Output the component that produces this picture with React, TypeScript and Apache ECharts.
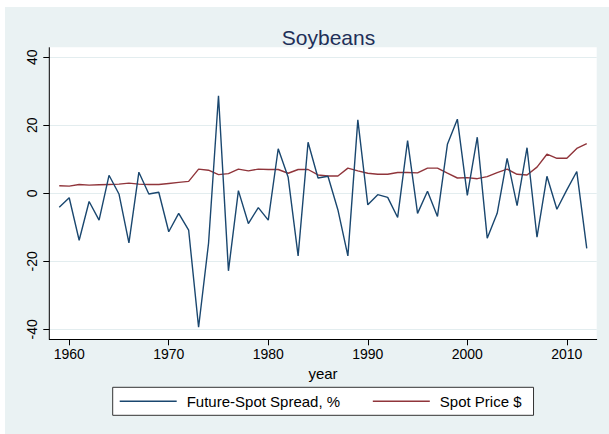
import React, { useEffect, useRef } from "react";
import * as echarts from "echarts";

const years = [
  1959, 1960, 1961, 1962, 1963, 1964, 1965, 1966, 1967, 1968, 1969, 1970, 1971, 1972,
  1973, 1974, 1975, 1976, 1977, 1978, 1979, 1980, 1981, 1982, 1983, 1984, 1985, 1986,
  1987, 1988, 1989, 1990, 1991, 1992, 1993, 1994, 1995, 1996, 1997, 1998, 1999, 2000,
  2001, 2002, 2003, 2004, 2005, 2006, 2007, 2008, 2009, 2010, 2011, 2012,
];

const spread = [
  -4.1, -1.3, -13.8, -2.4, -7.9, 5.3, -0.2, -14.6, 6.2, -0.2, 0.3, -11.3, -5.9, -10.8,
  -39.4, -14.7, 28.7, -22.8, 0.8, -8.9, -4.2, -7.9, 13.1, 4.7, -18.4, 15.0, 4.5, 5.0,
  -4.9, -18.4, 21.6, -3.4, -0.4, -1.2, -7.1, 15.5, -5.9, 0.6, -6.8, 14.4, 21.8, -0.6,
  16.5, -13.2, -5.9, 10.3, -3.6, 13.4, -12.9, 5.0, -4.7, 1.0, 6.4, -16.2,
];

const spotPrice = [
  2.2, 2.1, 2.6, 2.4, 2.5, 2.6, 2.7, 3.0, 2.7, 2.6, 2.6, 2.9, 3.2, 3.5,
  7.1, 6.8, 5.5, 5.8, 7.1, 6.6, 7.1, 7.0, 7.0, 5.9, 7.0, 7.0, 5.4, 5.1,
  5.1, 7.4, 6.6, 5.9, 5.6, 5.6, 6.1, 6.1, 6.0, 7.4, 7.4, 5.9, 4.5, 4.6,
  4.3, 4.9, 6.1, 7.1, 5.6, 5.4, 7.7, 11.5, 10.3, 10.3, 13.2, 14.6,
];

const xTicks = [1960, 1970, 1980, 1990, 2000, 2010];
const yTicks = [-40, -20, 0, 20, 40];

const FONT = "'Liberation Sans', Arial, Helvetica, sans-serif";
const BLUE = "#1a476f";
const RED = "#90353b";
const BG = "#eaf2f3";

export default function App() {
  const ref = useRef<HTMLDivElement>(null);

  useEffect(() => {
    if (!ref.current) return;
    const chart = echarts.init(ref.current, undefined, { renderer: "svg" });

    const plotL = 49.3;
    const plotR = 596.7;
    const plotT = 47.3;
    const plotB = 339.3;

    chart.setOption({
      animation: false,
      backgroundColor: "#ffffff",
      textStyle: { fontFamily: FONT },
      title: {
        text: "Soybeans",
        left: 323.5,
        textAlign: "center",
        top: 22,
        textStyle: {
          fontFamily: FONT,
          fontSize: 21,
          fontWeight: "normal",
          color: "#1e2f58",
        },
      },
      graphic: [
        {
          type: "rect",
          z: -20,
          silent: true,
          shape: { x: 5, y: 7, width: 604, height: 427 },
          style: { fill: BG },
        },
        {
          type: "rect",
          z: -10,
          silent: true,
          shape: { x: plotL, y: plotT, width: plotR - plotL, height: plotB - plotT },
          style: { fill: "#ffffff" },
        },
        {
          type: "line",
          z: 50,
          silent: true,
          shape: { x1: plotL, y1: plotT, x2: plotL, y2: plotB },
          style: { stroke: "#000", lineWidth: 1 },
        },
      ],
      legend: {
        left: 112.7,
        top: 387.3,
        orient: "horizontal",
        padding: [6, 12, 6, 7],
        backgroundColor: "#ffffff",
        borderColor: "#333333",
        borderWidth: 1,
        borderRadius: 0,
        itemWidth: 57,
        itemHeight: 1.5,
        itemGap: 32.7,
        icon: "rect",
        textStyle: {
          fontFamily: FONT,
          fontSize: 15,
          color: "#000",
          lineHeight: 16,
          padding: [0, 0, 0, 5],
        },
        data: [
          { name: "Future-Spot Spread, %", icon: "rect" },
          { name: "Spot Price $", icon: "rect" },
        ],
      },
      grid: {
        left: plotL,
        right: 609 - plotR,
        top: 57.3,
        bottom: 434 - 329.3,
        containLabel: false,
      },
      xAxis: {
        type: "value",
        min: 1958,
        max: 2013,
        offset: 10,
        name: "year",
        nameLocation: "middle",
        nameGap: 25,
        nameTextStyle: { fontFamily: FONT, fontSize: 15, color: "#000" },
        axisLine: { show: true, onZero: false, lineStyle: { color: "#000", width: 1 } },
        axisTick: {
          show: true,
          length: 6,
          customValues: xTicks,
          lineStyle: { color: "#000", width: 1 },
        },
        axisLabel: {
          customValues: xTicks,
          margin: 8,
          fontFamily: FONT,
          fontSize: 14,
          color: "#000",
          formatter: (v: number) => String(v),
        },
        splitLine: { show: false },
      },
      yAxis: {
        type: "value",
        min: -40,
        max: 40,
        interval: 20,
        axisLine: { show: false, onZero: false },
        axisTick: {
          show: true,
          length: 6,
          lineStyle: { color: "#000", width: 1 },
        },
        axisLabel: {
          rotate: 90,
          margin: 10,
          fontFamily: FONT,
          fontSize: 14,
          color: "#000",
          formatter: (v: number) => (yTicks.includes(v) ? String(v) : ""),
        },
        splitLine: { show: true, lineStyle: { color: "#e3edef", width: 1.2 } },
      },
      series: [
        {
          name: "Future-Spot Spread, %",
          type: "line",
          data: years.map((y, i) => [y, spread[i]]),
          showSymbol: false,
          symbol: "none",
          lineStyle: { color: BLUE, width: 1.4 },
          itemStyle: { color: BLUE },
          z: 3,
        },
        {
          name: "Spot Price $",
          type: "line",
          data: years.map((y, i) => [y, spotPrice[i]]),
          showSymbol: false,
          symbol: "none",
          lineStyle: { color: RED, width: 1.4 },
          itemStyle: { color: RED },
          z: 2,
        },
      ],
    });

    return () => chart.dispose();
  }, []);

  return (
    <div
      ref={ref}
      style={{ position: "fixed", left: 0, top: 0, width: 609, height: 434 }}
    />
  );
}
